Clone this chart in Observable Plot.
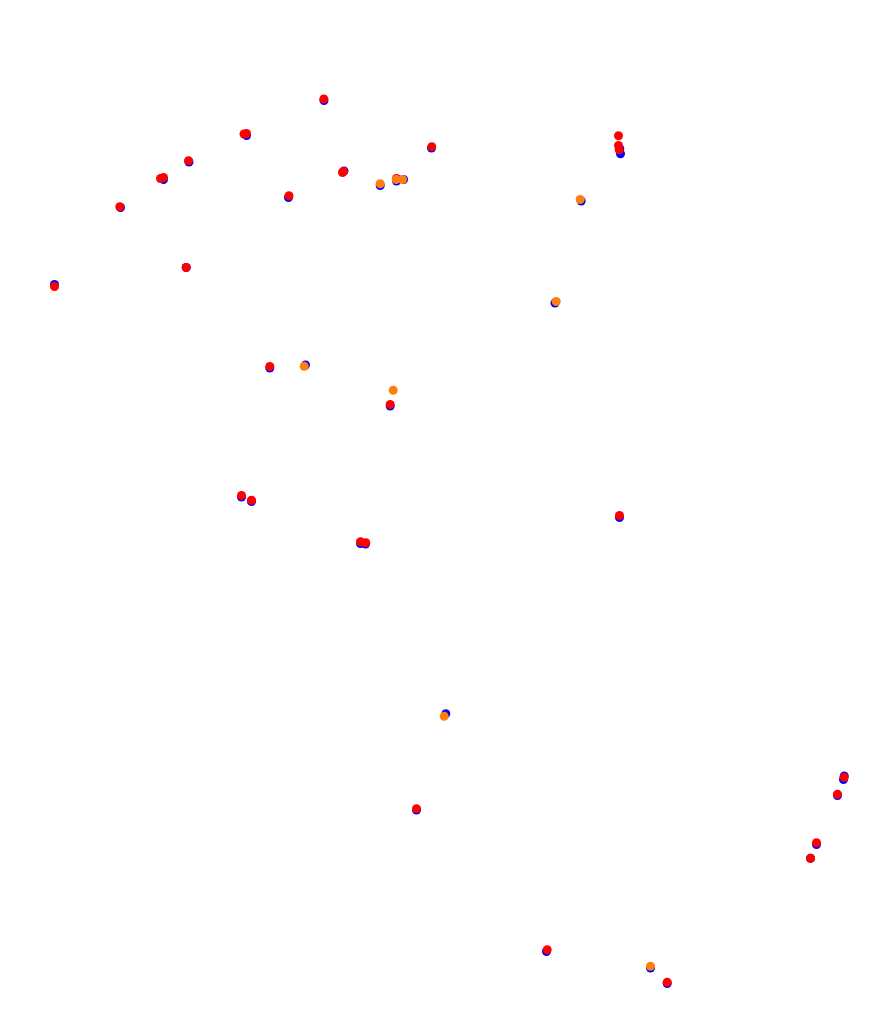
<!DOCTYPE html>
<html>
<head>
<meta charset="utf-8">
<script src="https://cdn.jsdelivr.net/npm/d3@7"></script>
<script src="https://cdn.jsdelivr.net/npm/@observablehq/plot@0.6"></script>
<style>
  html, body { margin: 0; padding: 0; background: #ffffff; }
  #chart svg { display: block; }
</style>
</head>
<body>
<div id="chart"></div>
<script>
// Series positions (horizontal / vertical units, vertical measured downward)
const blueX = [323.5, 246, 188.5, 163, 120, 288, 185.7, 54, 343.5, 379.7, 396, 403, 431, 619.3, 620, 580.7, 554.5,
  269.3, 305, 389.7, 241, 251, 360, 365, 619, 445.3, 416, 843.7, 843, 837, 816, 810, 546, 650, 666.7];
const blueY = [100, 135, 161.5, 179, 207, 197, 267, 284, 170.5, 185, 180.5, 179, 147.5, 148.3, 153.3, 200.5, 302.5,
  367.5, 364.5, 405.5, 496.5, 501, 543, 543.5, 517, 713.3, 809.5, 775.5, 779, 795, 844, 857.7, 951, 967.5, 983];

const redX = [323.3, 243.5, 246, 188, 160, 163, 119.3, 288.5, 185.7, 54, 342, 343, 396, 431.3, 618, 618, 618.7,
  269.3, 389.7, 241, 251, 360, 365.3, 619, 416, 843.7, 837, 816, 810, 546.7, 666.7];
const redY = [98.5, 133.5, 133, 160.3, 178, 177, 206.3, 195.3, 267, 286, 172, 171, 178, 146.3, 135.3, 145, 149.3,
  366, 404, 495, 499.7, 541.3, 542.3, 515, 808.3, 776.7, 793.7, 842.3, 857.7, 949.3, 981.7];

const orangeX = [379.7, 395.7, 402, 579.7, 555.7, 303.7, 392.7, 443.7, 650];
const orangeY = [183.3, 179, 179, 199, 301, 365.7, 389.7, 715.7, 965.7];

const series = [
  {name: "blue", xs: blueX, ys: blueY, color: "#0000ff"},
  {name: "red", xs: redX, ys: redY, color: "#ff0000"},
  {name: "orange", xs: orangeX, ys: orangeY, color: "#ff7f0e"}
];

const marks = series.map(s =>
  Plot.dot(s.xs.map((x, i) => ({x, y: s.ys[i]})), {x: "x", y: "y", r: 4.5, fill: s.color, stroke: null})
);

const chart = Plot.plot({
  width: 896,
  height: 1022,
  margin: 0,
  x: {domain: [0, 896], axis: null},
  y: {domain: [0, 1022], range: [0, 1022], axis: null},
  style: {background: "#ffffff"},
  marks
});
document.getElementById("chart").appendChild(chart);
</script>
</body>
</html>
